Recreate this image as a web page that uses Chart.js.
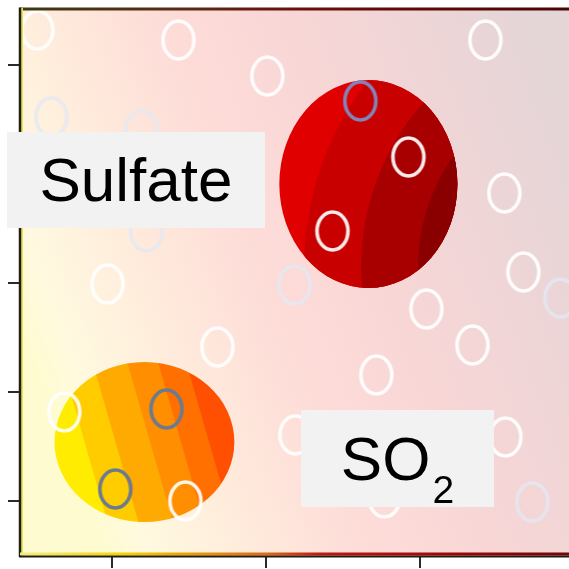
<!DOCTYPE html>
<html>
<head>
<meta charset="utf-8">
<script src="https://cdn.jsdelivr.net/npm/chart.js@4.4.1/dist/chart.umd.min.js"></script>
<style>
  body { margin: 0; background: #fff; }
  #wrap { position: relative; width: 569px; height: 569px; overflow: hidden; }
  .tag {
    position: absolute;
    background: #f2f2f2;
    color: #000;
    font-family: "Liberation Sans", Arial, Helvetica, sans-serif;
    font-size: 62px;
    text-align: center;
    white-space: nowrap;
  }
  .tag sub { font-size: 39px; vertical-align: baseline; position: relative; top: 23px; margin-left: 2px; }
</style>
</head>
<body>
<div id="wrap">
  <canvas id="c" width="569" height="569"></canvas>
  <div class="tag" style="left:7px; top:132px; width:258px; height:96px; line-height:96px;">Sulfate</div>
  <div class="tag" style="left:301px; top:410px; width:193px; height:97px; line-height:97px;">SO<sub>2</sub></div>
</div>
<script>
// axis ranges / ticks
const X_MIN = 0.4, X_MAX = 3.965;
const Y_MIN = 0.495, Y_MAX = 5.523;

// open white markers
const openX = [0.513, 1.429, 2.006, 0.968, 1.682, 0.688, 1.474, 2.922, 2.429, 3.422, 3.545, 3.669, 3.039, 3.338, 2.714, 2.188, 3.552, 2.766];
const openY = [5.321, 5.229, 4.899, 2.991, 2.413, 1.817, 1.000, 4.156, 3.477, 5.229, 3.826, 3.101, 2.761, 2.431, 2.156, 1.606, 1.587, 1.028];
// faint bluish markers
const faintX = [0.604, 1.188, 1.221, 2.182, 3.909, 3.727];
const faintY = [4.523, 4.404, 3.468, 2.982, 2.862, 0.991];
// grey-blue markers inside the SO2 blob
const slateX = [1.351, 1.019];
const slateY = [1.844, 1.110];
// violet marker inside the sulfate blob
const violetX = [2.610];
const violetY = [4.670];

// blobs: sulfate (red) and SO2 (orange), centre and half-axes in data units
const blobX = [2.662, 1.208];
const blobY = [3.908, 1.541];
const blobRX = [0.578, 0.584];
const blobRY = [0.954, 0.734];

// red: curved bands around a point off to the right (units of rx)
// orange: straight tilted bands
const blobStyle = [
  { kind: 'arc', ox: 2.68, oy: 0.92, radii: [3.4, 2.76, 2.12, 1.82],
    colors: ['#e00000', '#c80000', '#a80000', '#8a0000', '#600000'] },
  { kind: 'band', angle: -16, edges: [-0.64, -0.31, 0.06, 0.39, 0.69],
    colors: ['#ffec00', '#ffcc00', '#ffaa00', '#ff8e00', '#ff7000', '#ff4f00'] },
];

function ring(color, fill) {
  const cv = document.createElement('canvas');
  cv.width = 38; cv.height = 46;
  const c = cv.getContext('2d');
  c.beginPath();
  c.ellipse(19, 23, 15.5, 19, 0, 0, Math.PI * 2);
  c.lineWidth = 3.6;
  c.strokeStyle = color;
  c.stroke();
  return cv;
}

const pts = (xs, ys) => xs.map((x, i) => ({ x, y: ys[i] }));

const backdrop = {
  id: 'backdrop',
  beforeDatasetsDraw(chart) {
    const { ctx, chartArea: a, scales: { x, y } } = chart;
    ctx.save();
    ctx.beginPath();
    ctx.rect(a.left, a.top, a.right - a.left, a.bottom - a.top);
    ctx.clip();
    const g = ctx.createLinearGradient(a.left, 330, a.right, 120);
    g.addColorStop(0, '#fffbd0');
    g.addColorStop(0.07, '#fff9df');
    g.addColorStop(0.22, '#ffecdc');
    g.addColorStop(0.42, '#fddcd8');
    g.addColorStop(0.62, '#f8d6d6');
    g.addColorStop(0.82, '#eed5d6');
    g.addColorStop(1, '#e4d5d7');
    ctx.fillStyle = g;
    ctx.fillRect(a.left, a.top, a.right - a.left, a.bottom - a.top);

    blobX.forEach((bx, i) => {
      const cx = x.getPixelForValue(bx), cy = y.getPixelForValue(blobY[i]);
      const rx = x.getPixelForValue(bx + blobRX[i]) - cx;
      const ry = cy - y.getPixelForValue(blobY[i] + blobRY[i]);
      const st = blobStyle[i];
      ctx.save();
      ctx.beginPath();
      ctx.ellipse(cx, cy, rx, ry, 0, 0, Math.PI * 2);
      ctx.clip();
      if (st.kind === 'arc') {
        const px = cx + st.ox * rx, py = cy + st.oy * rx;
        ctx.fillStyle = st.colors[0];
        ctx.fillRect(cx - rx - 2, cy - ry - 2, rx * 2 + 4, ry * 2 + 4);
        st.radii.forEach((r, k) => {
          ctx.fillStyle = st.colors[k + 1];
          ctx.beginPath();
          ctx.arc(px, py, r * rx, 0, Math.PI * 2);
          ctx.fill();
        });
      } else {
        ctx.translate(cx, cy);
        ctx.rotate(st.angle * Math.PI / 180);
        const bounds = [-2, ...st.edges, 2];
        st.colors.forEach((col, k) => {
          ctx.fillStyle = col;
          const x0 = bounds[k] * rx, x1 = bounds[k + 1] * rx;
          ctx.fillRect(x0, -ry * 2, x1 - x0 + 0.5, ry * 4);
        });
      }
      ctx.restore();
    });
    ctx.restore();
  },
  afterDatasetsDraw(chart) {
    const { ctx, chartArea: a } = chart;
    ctx.save();
    // top edge
    let g = ctx.createLinearGradient(a.left, 0, a.right, 0);
    g.addColorStop(0, '#3c3a12');
    g.addColorStop(0.3, '#5a2a12');
    g.addColorStop(0.55, '#6a0c0c');
    g.addColorStop(1, '#480606');
    ctx.strokeStyle = g;
    ctx.lineWidth = 3;
    ctx.beginPath(); ctx.moveTo(a.left, a.top + 1); ctx.lineTo(a.right, a.top + 1); ctx.stroke();
    // left edge
    ctx.strokeStyle = '#e9e25a';
    ctx.lineWidth = 2;
    ctx.beginPath(); ctx.moveTo(a.left + 2, a.top); ctx.lineTo(a.left + 2, a.bottom); ctx.stroke();
    ctx.strokeStyle = '#1e1e12';
    ctx.lineWidth = 2.5;
    ctx.beginPath(); ctx.moveTo(a.left, a.top - 0.5); ctx.lineTo(a.left, a.bottom + 1); ctx.stroke();
    // bottom edge
    g = ctx.createLinearGradient(a.left, 0, a.right, 0);
    g.addColorStop(0, '#f4ee80');
    g.addColorStop(0.18, '#f8d400');
    g.addColorStop(0.3, '#f0a000');
    g.addColorStop(0.45, '#e06814');
    g.addColorStop(0.55, '#c41414');
    g.addColorStop(0.78, '#a40404');
    g.addColorStop(1, '#740606');
    ctx.strokeStyle = g;
    ctx.lineWidth = 3;
    ctx.beginPath(); ctx.moveTo(a.left, a.bottom - 2); ctx.lineTo(a.right, a.bottom - 2); ctx.stroke();
    ctx.strokeStyle = '#1e1e14';
    ctx.lineWidth = 2;
    ctx.beginPath(); ctx.moveTo(a.left - 1, a.bottom + 0.5); ctx.lineTo(a.right, a.bottom + 0.5); ctx.stroke();
    ctx.restore();
  }
};

const axisGrid = {
  display: true,
  drawOnChartArea: false,
  drawTicks: true,
  tickLength: 12,
  tickColor: '#2a2a2a',
  lineWidth: 2,
};

new Chart(document.getElementById('c'), {
  type: 'scatter',
  data: {
    datasets: [
      { data: pts(openX, openY), pointStyle: ring('rgba(255,255,255,0.92)') },
      { data: pts(faintX, faintY), pointStyle: ring('rgba(226,232,244,0.8)') },
      { data: pts(slateX, slateY), pointStyle: ring('#6a7a90') },
      { data: pts(violetX, violetY), pointStyle: ring('#8482b8') },
    ]
  },
  options: {
    responsive: false,
    animation: false,
    events: [],
    layout: { autoPadding: false, padding: { left: 8, top: 8, right: 0, bottom: 1 } },
    plugins: { legend: { display: false }, tooltip: { enabled: false } },
    scales: {
      x: {
        type: 'linear', min: X_MIN, max: X_MAX,
        ticks: { display: false, stepSize: 1, includeBounds: false },
        grid: axisGrid,
        border: { display: false },
      },
      y: {
        type: 'linear', min: Y_MIN, max: Y_MAX,
        ticks: { display: false, stepSize: 1, includeBounds: false },
        grid: axisGrid,
        border: { display: false },
      }
    }
  },
  plugins: [backdrop]
});
</script>
</body>
</html>
